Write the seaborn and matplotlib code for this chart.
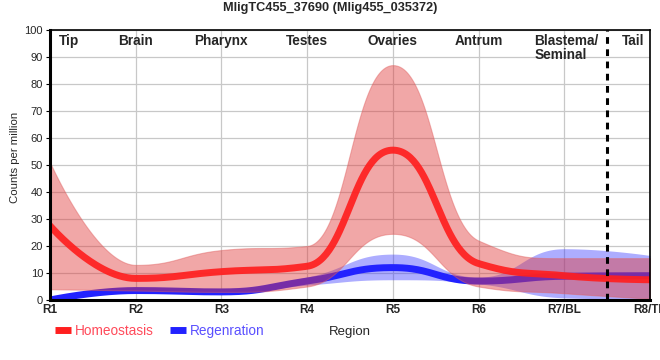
import numpy as np
import pandas as pd
import matplotlib
matplotlib.use("Agg")
import matplotlib.pyplot as plt
import seaborn as sns
from matplotlib.lines import Line2D

regions = ['R1', 'R2', 'R3', 'R4', 'R5', 'R6', 'R7/BL', 'R8/TL']
tissues = ['Tip', 'Brain', 'Pharynx', 'Testes', 'Ovaries', 'Antrum', 'Blastema/\nSeminal', 'Tail']

homeo_mean = [27.5, 8, 10.5, 12.5, 55.5, 13.5, 9, 7.5]
homeo_upper = [51, 13, 18.5, 20, 87, 22, 15.5, 15.5]
homeo_lower = [4, 3.5, 3, 5, 24.5, 5, 2.5, 0.5]

regen_mean = [0, 3.5, 3, 7, 12, 7, 8.8, 9]
regen_upper = [1, 4.5, 4, 8.5, 17, 8.5, 19, 16.5]
regen_lower = [0, 3, 2.5, 5.5, 7.5, 6, 0.8, 0.3]


def spline(vals, c=0.47, n=60):
    # bezier spline through the points, control points at c of the gap,
    # clamped so no false extremes appear (the usual "spline" chart look)
    y = np.asarray(vals, float)
    k = len(y)
    lc = [(i, y[i]) for i in range(k)]
    rc = [(i, y[i]) for i in range(k)]
    for i in range(1, k - 1):
        last, p, nxt = y[i - 1], y[i], y[i + 1]
        slope = (nxt - last) / 2
        lcy = p - c * slope
        rcy = p + c * slope
        if lcy > last and lcy > p:
            lcy = max(last, p)
            rcy = 2 * p - lcy
        elif lcy < last and lcy < p:
            lcy = min(last, p)
            rcy = 2 * p - lcy
        if rcy > nxt and rcy > p:
            rcy = max(nxt, p)
            lcy = 2 * p - rcy
        elif rcy < nxt and rcy < p:
            rcy = min(nxt, p)
            lcy = 2 * p - rcy
        lc[i] = (i - c, lcy)
        rc[i] = (i + c, rcy)
    xs, ys = [], []
    for i in range(k - 1):
        t = np.linspace(0, 1, n, endpoint=(i == k - 2))
        p0 = (i, y[i])
        p1 = rc[i]
        p2 = lc[i + 1]
        p3 = (i + 1, y[i + 1])
        b0, b1, b2, b3 = (1 - t)**3, 3 * t * (1 - t)**2, 3 * t**2 * (1 - t), t**3
        xs.append(b0 * p0[0] + b1 * p1[0] + b2 * p2[0] + b3 * p3[0])
        ys.append(b0 * p0[1] + b1 * p1[1] + b2 * p2[1] + b3 * p3[1])
    return np.concatenate(xs), np.concatenate(ys)


sns.set_style("whitegrid")
plt.rcParams['font.family'] = ['Liberation Sans', 'DejaVu Sans']

fig = plt.figure(figsize=(6.6, 3.6), dpi=100)
ax = fig.add_axes([50 / 660, 60 / 360, 600 / 660, 270 / 360])

red = '#ff1f1f'
blue = '#2222ff'

# regeneration first (it sits under the homeostasis band)
x, lo = spline(regen_lower)
_, hi = spline(regen_upper)
ax.fill_between(x, lo, hi, color='#3333ff', alpha=0.4, lw=0, zorder=2)
x, ym = spline(regen_mean)
sns.lineplot(x=x, y=ym, ax=ax, color=blue, lw=5, zorder=3, sort=False)

x, lo = spline(homeo_lower)
_, hi = spline(homeo_upper)
ax.fill_between(x, lo, hi, color='#e03c3c', alpha=0.45, lw=0.8,
                edgecolor='#e06060', zorder=4)
x, ym = spline(homeo_mean)
sns.lineplot(x=x, y=ym, ax=ax, color=red, lw=5, alpha=0.92, zorder=5, sort=False)

ax.axvline(6.5, color='black', lw=2.2, ls=(0, (2.2, 1.8)), zorder=6)

ax.set_xlim(0, 7)
ax.set_ylim(0, 100)
ax.set_xticks(range(len(regions)))
ax.set_xticklabels(regions, fontsize=8.5, fontweight='bold')
ax.set_yticks(range(0, 101, 10))
ax.tick_params(axis='y', labelsize=8, length=3, pad=2, color='black', left=True)
ax.tick_params(axis='x', length=0, pad=3)
ax.grid(True, color='#c8c8c8', lw=0.9)
ax.set_axisbelow(True)

for side in ['left', 'bottom']:
    ax.spines[side].set_linewidth(2.2)
for side in ['top', 'right']:
    ax.spines[side].set_linewidth(1.2)
for s in ax.spines.values():
    s.set_color('black')
    s.set_zorder(7)

ax.set_xlabel('Region', fontsize=9.5)
ax.xaxis.set_label_coords(0.5, -(331.5 - 300) / 270, transform=ax.transAxes)
ax.xaxis.label.set_va('center')
ax.set_ylabel('Counts per million', fontsize=8.2)
ax.yaxis.set_label_coords(-(50 - 15) / 600, (300 - 157) / 270)
ax.yaxis.label.set_va('center')

# tissue labels along the top
tx = [0.1, 1, 2, 3, 4, 5, 5.65, 6.8]
ha = ['left', 'center', 'center', 'center', 'center', 'center', 'left', 'center']
for t, xp, h in zip(tissues, tx, ha):
    ax.text(xp, 98.5, t, ha=h, va='top', fontsize=9.8, fontweight='bold',
            linespacing=1.0, zorder=8)

fig.suptitle('MligTC455_37690 (Mlig455_035372)', fontsize=9.2, fontweight='bold',
             x=0.5, y=0.978, va='center')

handles = [Line2D([], [], color=red, lw=5, solid_capstyle='butt'),
           Line2D([], [], color=blue, lw=5, solid_capstyle='butt')]
fig.legend(handles, ['Homeostasis', 'Regenration'], loc='center left',
           bbox_to_anchor=(55 / 660, 1 - 331 / 360), ncol=2, frameon=False,
           fontsize=9.8, handlelength=1.2, handletextpad=0.25, columnspacing=1.2,
           borderpad=0, borderaxespad=0, labelcolor=['#ff4a5a', '#5a50ff'])

fig.savefig('out.png', dpi=100)
